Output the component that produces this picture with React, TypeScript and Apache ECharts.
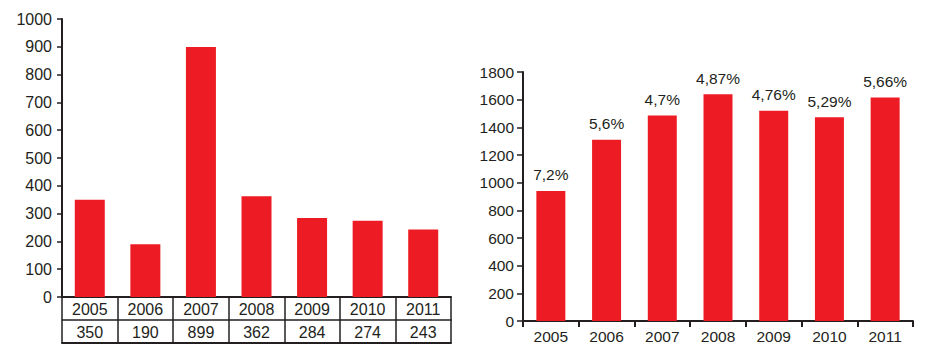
import React, { useEffect, useRef } from "react";
import * as echarts from "echarts";

const years = ["2005", "2006", "2007", "2008", "2009", "2010", "2011"];
const leftValues = [350, 190, 899, 362, 284, 274, 243];
const rightValues = [940, 1310, 1485, 1640, 1520, 1472, 1615];
const growthLabels = ["7,2%", "5,6%", "4,7%", "4,87%", "4,76%", "5,29%", "5,66%"];

const FONT = "'Liberation Sans Narrow', 'Arial Narrow', 'Liberation Sans', Arial, sans-serif";
const INK = "#231f20";
const RED = "#ed1c24";

export default function App() {
  const ref = useRef<HTMLDivElement>(null);
  useEffect(() => {
    if (!ref.current) return;
    const chart = echarts.init(ref.current, undefined, { renderer: "svg" });
    const txt = (size: number) => ({ color: INK, fontFamily: FONT, fontSize: size });
    const plain = (v: number) => String(v);
    chart.setOption({
      animation: false,
      backgroundColor: "#ffffff",
      grid: [
        { left: 62, top: 19, width: 389, height: 278 },
        { left: 523, top: 72, width: 390, height: 249 },
      ],
      xAxis: [
        {
          gridIndex: 0,
          type: "category",
          data: years,
          position: "bottom",
          axisLine: { lineStyle: { color: INK, width: 2 } },
          axisTick: { show: true, interval: 0, length: 46, lineStyle: { color: INK, width: 1.5 } },
          axisLabel: { interval: 0, margin: 4, ...txt(16) },
        },
        {
          gridIndex: 0,
          type: "category",
          data: leftValues.map(String),
          position: "bottom",
          offset: 23,
          axisLine: { lineStyle: { color: INK, width: 1.5 } },
          axisTick: { show: false },
          axisLabel: { interval: 0, margin: 4, ...txt(16) },
        },
        {
          gridIndex: 0,
          type: "category",
          data: years,
          position: "bottom",
          offset: 46,
          axisLine: { lineStyle: { color: INK, width: 2 } },
          axisTick: { show: false },
          axisLabel: { show: false },
        },
        {
          gridIndex: 1,
          type: "category",
          data: years,
          position: "bottom",
          axisLine: { lineStyle: { color: INK, width: 2 } },
          axisTick: { show: true, interval: 0, length: 6, lineStyle: { color: INK, width: 2 } },
          axisLabel: { interval: 0, margin: 7, ...txt(15.5) },
        },
      ],
      yAxis: [
        {
          gridIndex: 0,
          type: "value",
          min: 0,
          max: 1000,
          interval: 100,
          axisLine: { show: true, lineStyle: { color: INK, width: 2 } },
          axisTick: { show: true, length: 5, lineStyle: { color: INK, width: 1.5 } },
          axisLabel: { margin: 10, formatter: plain, ...txt(16) },
          splitLine: { show: false },
        },
        {
          gridIndex: 1,
          type: "value",
          min: 0,
          max: 1800,
          interval: 200,
          axisLine: { show: true, lineStyle: { color: INK, width: 2 } },
          axisTick: { show: true, length: 6, lineStyle: { color: INK, width: 1.5 } },
          axisLabel: { margin: 9, formatter: plain, ...txt(15.5) },
          splitLine: { show: false },
        },
      ],
      series: [
        {
          type: "bar",
          xAxisIndex: 0,
          yAxisIndex: 0,
          data: leftValues,
          barWidth: 30,
          itemStyle: { color: RED },
        },
        {
          type: "bar",
          xAxisIndex: 3,
          yAxisIndex: 1,
          data: rightValues,
          barWidth: 29,
          itemStyle: { color: RED },
          label: {
            show: true,
            position: "top",
            distance: 8,
            formatter: (p: any) => growthLabels[p.dataIndex],
            ...txt(15.5),
          },
        },
      ],
    });
    return () => chart.dispose();
  }, []);
  return (
    <div
      ref={ref}
      style={{ position: "absolute", left: 0, top: 0, width: 952, height: 351 }}
    />
  );
}
